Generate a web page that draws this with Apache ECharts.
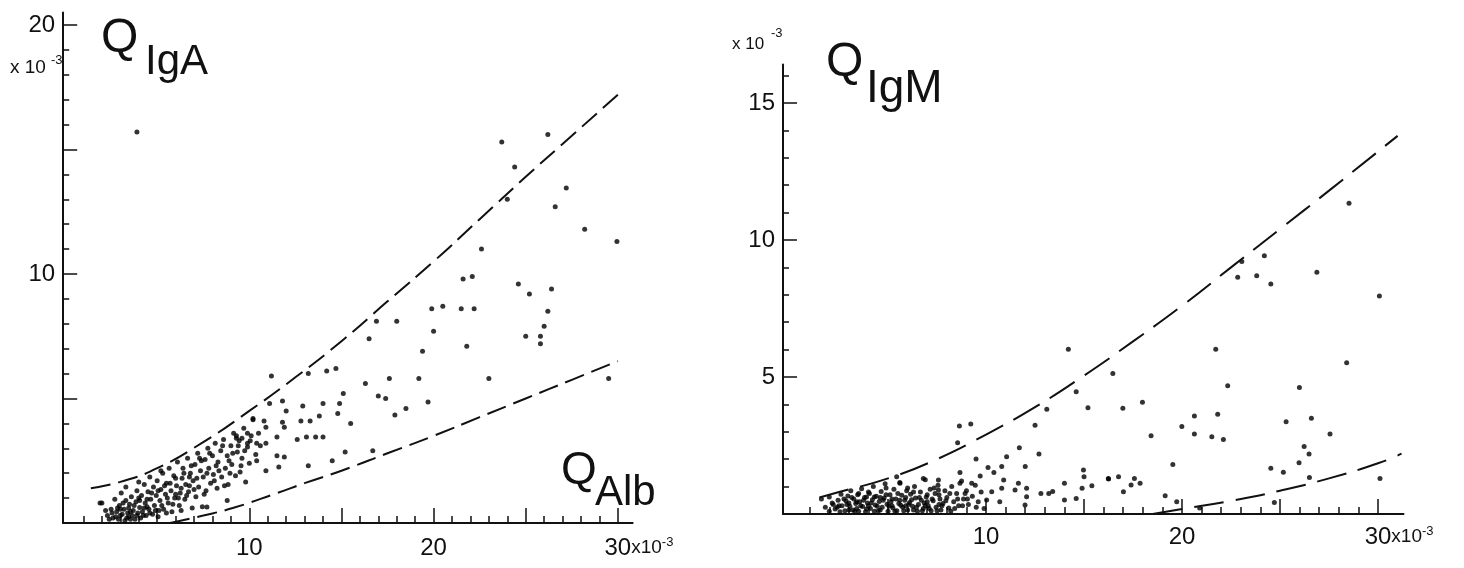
<!DOCTYPE html>
<html>
<head>
<meta charset="utf-8">
<script src="https://cdn.jsdelivr.net/npm/echarts@6/dist/echarts.min.js"></script>
<style>
  html, body { margin: 0; padding: 0; background: #fff; }
  #main { width: 1464px; height: 568px; }
</style>
</head>
<body>
<div id="main"></div>
<script>
// tick labels
var igaXLabels = [10, 20, 30];
var igaYLabels = [10, 20];
var igmXLabels = [10, 20, 30];
var igmYLabels = [5, 10, 15];

// Q IgA vs Q Alb (x10^-3)
var igaUpper = [[1.4,1.4],[3,1.65],[5,2.2],[7.5,3.25],[10,4.5],[12.5,5.85],[15,7.3],[17.5,8.9],[20,10.5],[22.5,12.2],[25,13.9],[27.5,15.55],[30,17.2]];
var igaLower = [[5.7,0],[7.5,0.3],[9.1,0.6],[11.5,1.2],[13,1.6],[15,2.1],[17.5,2.8],[20,3.5],[22.5,4.25],[25,5.0],[27.5,5.75],[30,6.5]];

var igaCluster = [
  [2.0,0.8],[2.3,0.3],[2.5,0.55],[2.6,0.2],[2.7,0.95],[2.8,0.45],[2.9,0.15],[2.95,0.7],[3.05,1.2],[3.1,0.35],
  [3.2,0.55],[3.25,0.1],[3.3,0.9],[3.4,0.4],[3.45,0.25],[3.5,0.75],[3.6,1.05],[3.65,0.3],[3.7,0.5],[3.8,0.15],
  [3.85,0.85],[3.9,1.3],[3.95,0.4],[4.05,0.62],[4.1,0.2],[4.15,1.1],[4.2,0.45],[4.3,1.55],[4.35,0.8],[4.4,0.3],
  [4.5,1.25],[4.55,0.55],[4.6,1.85],[4.65,0.95],[4.75,0.35],[4.8,1.45],[4.85,0.7],[4.95,1.1],[5.0,1.7],[5.05,0.25],
  [5.15,0.9],[5.2,1.35],[5.3,2.0],[5.35,0.55],[5.45,1.15],[5.5,1.6],[5.6,0.8],[5.65,2.2],[5.75,1.3],[5.8,0.45],
  [5.9,1.9],[5.95,1.0],[6.05,1.5],[6.1,2.45],[6.2,0.7],[6.25,1.2],[6.35,1.8],[6.4,2.2],[6.5,0.95],[6.55,1.55],
  [6.65,2.6],[6.7,1.25],[6.8,2.0],[6.9,0.6],[6.95,1.7],[7.05,2.35],[7.1,1.05],[7.2,2.8],[7.25,1.45],[7.35,2.1],
  [7.45,0.65],[7.5,1.85],[7.6,2.55],[7.65,1.3],[7.75,3.0],[7.8,2.2],[7.9,1.6],[8.0,2.7],[8.05,1.95],[8.15,3.2],
  [8.25,1.4],[8.3,2.45],[8.45,2.9],[8.5,1.85],[8.6,3.35],[8.7,2.2],[8.8,2.7],[8.85,1.55],[9.0,3.1],[9.05,2.35],
  [9.15,3.6],[9.25,1.9],[9.35,2.85],[9.45,3.3],[9.5,2.05],[9.6,2.6],[9.7,3.8],[9.8,1.65],[9.9,3.05],[10.0,2.4],
  [10.1,3.5],[10.2,4.15],[10.35,2.75],[6.3,0.5],[8.8,0.9],[7.7,0.64],[1.9,0.8],[2.2,0.5],[3.0,0.55],[3.55,0.15],
  [4.0,1.0],[4.45,0.65],[5.1,0.5],[5.55,1.0],[6.0,1.15],[6.75,1.5],[7.4,2.5],[8.2,2.3],[8.95,2.0],[9.6,3.4],
  [2.4,0.15],[2.55,0.4],[2.75,0.25],[2.85,0.6],[3.0,0.3],[3.15,0.8],[3.35,0.2],[3.45,0.6],[3.55,0.45],[3.75,0.7],
  [3.9,0.3],[4.05,0.9],[4.25,0.3],[4.3,0.6],[4.45,0.95],[4.6,0.4],[4.7,1.2],[4.9,0.5],[5.05,1.3],[5.25,0.7],
  [5.4,1.5],[5.5,0.4],[5.7,1.6],[5.85,0.75],[6.0,1.8],[6.15,1.0],[6.3,1.4],[6.45,2.0],[6.6,1.1],[6.75,1.85],
  [6.85,2.3],[7.0,1.35],[7.15,1.8],[7.3,2.6],[7.55,1.15],[7.7,2.0],[7.85,2.8],[8.1,1.7],[8.35,2.1],[8.55,3.1],
  [8.65,1.5],[8.9,2.5],[9.1,2.8],[9.3,3.4],[9.55,2.3],[9.75,2.9],[10.05,3.3],[10.4,2.5],[10.6,3.1],[4.0,1.65],
  [5.2,2.1],[3.3,1.45]
];
var igaScatter = [
  [3.9,15.7],[26.2,15.6],[23.7,15.3],[24.4,14.3],[24.0,13.0],[27.2,13.45],[26.6,12.7],[28.2,11.8],[29.95,11.3],[22.6,11.0],
  [21.6,9.8],[22.1,9.9],[24.6,9.6],[25.2,9.2],[26.4,9.4],[26.2,8.5],[26.0,7.9],[25.0,7.5],[25.8,7.5],[25.8,7.2],
  [19.9,8.6],[20.5,8.7],[21.5,8.6],[22.2,8.6],[20.0,7.7],[21.8,7.1],[19.4,6.9],[16.9,8.1],[18.0,8.1],[16.5,7.4],
  [14.2,6.1],[14.7,6.2],[13.2,6.0],[11.2,5.9],[16.3,5.6],[17.6,5.8],[19.2,5.8],[23.0,5.8],[15.1,5.2],[17.0,5.1],
  [17.4,5.0],[29.5,5.8],[12.9,4.7],[14.0,4.8],[14.9,4.8],[14.8,4.4],[15.5,4.0],[11.8,4.9],[12.0,4.5],[11.1,4.8],
  [12.8,4.1],[13.3,4.1],[13.8,4.3],[10.8,4.1],[10.9,3.85],[11.8,4.05],[11.9,3.85],[10.2,4.2],[10.5,3.6],[11.5,3.45],
  [12.6,3.35],[13.1,3.45],[13.6,3.45],[14.0,3.45],[9.9,3.6],[9.9,3.2],[10.4,3.2],[10.9,3.2],[11.5,2.7],[11.9,2.65],
  [10.9,2.1],[11.6,2.25],[13.2,2.3],[14.5,2.5],[15.2,2.85],[9.3,3.5],[9.4,3.1],[16.7,2.9],[17.9,4.34],[18.5,4.6],
  [19.7,4.86]
];

// Q IgM vs Q Alb (x10^-3)
var igmUpper = [[1.5,0.6],[2.5,0.8],[5,1.3],[7.5,2.0],[10,2.9],[12.5,3.9],[15,5.05],[17.5,6.3],[20,7.6],[22.5,9.0],[25,10.4],[27.5,11.8],[31,13.8]];
var igmLower = [[18.5,0],[20,0.18],[22.5,0.48],[25,0.85],[27.5,1.3],[30,1.85],[31.2,2.2]];

var igmCluster = [
  [1.6,0.55],[1.8,0.25],[2.0,0.62],[2.15,0.4],[2.3,0.18],[2.45,0.5],[2.6,0.72],[2.65,0.3],[2.8,0.12],[2.85,0.48],
  [2.95,0.66],[3.05,0.28],[3.1,0.85],[3.2,0.15],[3.25,0.55],[3.35,0.38],[3.45,0.7],[3.5,0.1],[3.55,0.45],[3.65,0.92],
  [3.7,0.27],[3.8,0.6],[3.85,0.08],[3.95,0.4],[4.05,0.75],[4.1,0.2],[4.2,0.52],[4.25,1.0],[4.35,0.33],[4.4,0.65],
  [4.5,0.12],[4.55,0.46],[4.65,0.82],[4.7,0.25],[4.8,0.58],[4.85,1.1],[4.95,0.36],[5.0,0.1],[5.1,0.7],[5.15,0.45],
  [5.25,0.22],[5.3,0.9],[5.4,0.55],[5.45,0.12],[5.55,0.38],[5.6,1.15],[5.7,0.68],[5.75,0.25],[5.85,0.5],[5.95,0.85],
  [6.0,0.15],[6.1,0.42],[6.15,0.72],[6.25,0.28],[6.35,1.0],[6.4,0.58],[6.5,0.1],[6.55,0.35],[6.65,0.8],[6.7,0.5],
  [6.8,0.2],[6.9,1.25],[6.95,0.62],[7.05,0.3],[7.15,0.9],[7.2,0.12],[7.3,0.48],[7.4,0.75],[7.45,0.25],[7.55,1.05],
  [7.65,0.55],[7.7,0.15],[7.8,0.38],[7.9,0.85],[8.0,0.6],[8.1,0.22],[8.25,1.0],[8.35,0.45],[8.5,0.75],[8.6,0.3],
  [8.75,1.2],[8.85,0.55],[9.0,0.85],[9.1,0.35],[9.3,0.65],[9.45,1.05],[9.6,0.45],[9.75,0.8],[9.9,0.2],[3.0,0.4],
  [3.4,0.2],[4.0,0.3],[4.6,0.6],[5.2,0.3],[5.9,0.3],[6.3,0.15],[7.0,0.45],[7.6,0.35],[8.2,0.1],[4.3,0.1],
  [2.0,0.1],[2.2,0.35],[2.4,0.25],[2.55,0.08],[2.75,0.55],[2.9,0.35],[3.0,0.15],[3.15,0.6],[3.3,0.1],[3.4,0.45],
  [3.6,0.3],[3.75,0.5],[3.9,0.18],[4.0,0.8],[4.15,0.4],[4.3,0.62],[4.45,0.28],[4.6,0.15],[4.75,0.5],[4.9,0.7],
  [5.05,0.28],[5.2,0.55],[5.35,0.1],[5.5,0.75],[5.65,0.32],[5.8,0.12],[5.9,0.6],[6.05,0.35],[6.2,0.52],[6.3,0.8],
  [6.45,0.25],[6.6,0.6],[6.75,0.12],[6.85,0.4],[7.0,0.7],[7.1,0.2],[7.25,0.55],[7.35,0.95],[7.5,0.12],[7.6,0.7],
  [7.75,0.3],[7.95,0.48],[8.15,0.75],[8.4,0.2],[8.55,0.55],[8.8,0.3],[9.05,0.55],[9.5,0.25],[3.5,0.75],[4.9,0.95],
  [6.0,0.95],[2.5,0.3],[3.9,0.62],[5.6,0.5],[6.9,0.3]
];
var igmScatter = [
  [14.2,6.01],[14.6,4.46],[15.2,3.88],[13.1,3.82],[12.5,3.24],[8.64,3.21],[9.22,3.28],[8.55,2.6],[9.49,2.01],[11.7,2.42],
  [12.7,2.19],[11.05,2.09],[12.0,1.73],[10.8,1.73],[10.1,1.7],[10.4,1.51],[9.7,1.39],[8.67,1.51],[14.97,1.61],[15.0,1.36],
  [15.4,1.03],[16.24,1.3],[14.0,1.12],[13.2,0.75],[12.8,0.75],[13.4,0.82],[14.0,0.51],[14.6,0.57],[14.9,0.94],[12.07,0.94],
  [12.07,0.63],[11.99,0.33],[11.65,1.12],[11.48,0.88],[10.9,1.24],[10.8,0.94],[10.7,0.45],[10.29,0.81],[10.03,0.51],[9.27,1.12],
  [8.93,0.75],[6.8,1.3],[7.57,1.24],[7.57,0.88],[8.67,1.12],[5.44,1.36],[5.61,1.12],[23.05,9.21],[24.2,9.42],[22.84,8.64],
  [23.81,8.69],[24.53,8.39],[26.88,8.82],[28.52,11.34],[30.07,7.96],[21.72,6.01],[16.47,5.13],[16.98,3.86],[17.98,4.08],[22.33,4.68],
  [25.99,4.62],[28.4,5.52],[20.63,3.58],[21.82,3.64],[26.6,3.49],[18.42,2.86],[19.99,3.19],[20.63,2.92],[21.52,2.82],[22.11,2.72],
  [25.31,3.37],[27.55,2.92],[26.23,2.46],[26.48,2.19],[25.97,1.87],[24.53,1.67],[25.17,1.52],[26.5,1.33],[30.1,1.3],[16.25,1.28],
  [16.76,1.36],[17.01,0.81],[17.4,1.06],[17.57,1.3],[17.86,1.12],[19.53,1.81],[19.14,0.67],[19.73,0.45],[24.71,0.42],[20.9,0.22]
];

var FONT = '"Liberation Sans", Arial, sans-serif';
var INK = '#111';

// tick positions: short every 1, long every 5
var minorTicks = function(max) {
  var a = [];
  for (var i = 1; i <= max; i++) if (i % 5) a.push(i);
  return a;
};
var majorTicks = function(max) {
  var a = [];
  for (var i = 5; i <= max; i += 5) a.push(i);
  return a;
};

var xLabelRich = {
  n: { fontSize: 24, fontFamily: FONT, color: INK },
  u: { fontSize: 19, fontFamily: FONT, color: INK },
  e: { fontSize: 13, fontFamily: FONT, color: INK, verticalAlign: 'top', padding: [0, 0, 10, 0] },
  hu: { fontSize: 19, fontFamily: FONT, color: 'transparent' },
  he: { fontSize: 13, fontFamily: FONT, color: 'transparent' }
};
var xLabelFormatter = function(v) {
  if (v === 30) return '{hu|x10}{he|-3}{n|30}{u|x10}{e|-3}';
  return '{n|' + v + '}';
};

// one axis pair (short ticks + labels, long ticks overlay) for a grid
var makeX = function(gridIndex, min, max, labels, margin) {
  return [
    {
      type: 'value', gridIndex: gridIndex, min: min, max: max, position: 'bottom',
      splitLine: { show: false },
      axisLine: { onZero: false, lineStyle: { color: INK, width: 2 } },
      axisTick: { inside: true, length: 7, customValues: minorTicks(30), lineStyle: { color: INK, width: 1.5 } },
      axisLabel: { customValues: labels, margin: margin, formatter: xLabelFormatter, rich: xLabelRich }
    },
    {
      type: 'value', gridIndex: gridIndex, min: min, max: max, position: 'bottom',
      splitLine: { show: false },
      axisLine: { show: false, onZero: false },
      axisTick: { inside: true, length: 15, customValues: majorTicks(30), lineStyle: { color: INK, width: 1.5 } },
      axisLabel: { show: false }
    }
  ];
};
var makeY = function(gridIndex, max, top, labels) {
  return [
    {
      type: 'value', gridIndex: gridIndex, min: 0, max: max, position: 'left',
      splitLine: { show: false },
      axisLine: { onZero: false, lineStyle: { color: INK, width: 2 } },
      axisTick: { inside: true, length: 6, customValues: minorTicks(top), lineStyle: { color: INK, width: 1.5 } },
      axisLabel: { customValues: labels, margin: 8, fontSize: 24, fontFamily: FONT, color: INK }
    },
    {
      type: 'value', gridIndex: gridIndex, min: 0, max: max, position: 'left',
      splitLine: { show: false },
      axisLine: { show: false, onZero: false },
      axisTick: { inside: true, length: 14, customValues: majorTicks(top), lineStyle: { color: INK, width: 1.5 } },
      axisLabel: { show: false }
    }
  ];
};

var dots = function(name, data, xi, yi) {
  return {
    name: name, type: 'scatter', xAxisIndex: xi, yAxisIndex: yi, data: data,
    symbolSize: 5, itemStyle: { color: '#000' }, silent: true
  };
};
var dashed = function(name, data, xi, yi, dash) {
  return {
    name: name, type: 'line', xAxisIndex: xi, yAxisIndex: yi, data: data,
    smooth: 0.5, showSymbol: false, silent: true,
    lineStyle: { color: INK, width: 2, type: dash }
  };
};

var txt = function(x, y, text, size) {
  return {
    type: 'text', x: x, y: y, silent: true,
    style: { text: text, fontSize: size, fontFamily: FONT, fill: INK, verticalAlign: 'middle', align: 'left' }
  };
};

var myChart = echarts.init(document.getElementById('main'));

var option = {
  backgroundColor: '#fff',
  animation: false,
  grid: [
    { left: 63.2, top: 12.5, width: 569.4, height: 510.5 },
    { left: 783, top: 64.6, width: 620.5, height: 449.4 }
  ],
  xAxis: makeX(0, -0.1, 30.8, igaXLabels, 13).concat(makeX(1, -0.36, 31.3, igmXLabels, 11)),
  yAxis: makeY(0, 20.5, 20, igaYLabels).concat(makeY(1, 16.4, 16, igmYLabels)),
  series: [
    dots('IgA', igaCluster, 0, 0),
    dots('IgA outer', igaScatter, 0, 0),
    dashed('IgA upper', igaUpper, 0, 0, [20, 8]),
    dashed('IgA lower', igaLower, 0, 0, [20, 8]),
    dots('IgM', igmCluster, 2, 2),
    dots('IgM outer', igmScatter, 2, 2),
    dashed('IgM upper', igmUpper, 2, 2, [30, 12]),
    dashed('IgM lower', igmLower, 2, 2, [30, 12])
  ],
  graphic: [
    txt(101, 39, 'Q', 48),
    txt(145, 62, 'IgA', 42),
    txt(10, 68, 'x 10', 19),
    txt(51, 60, '-3', 13),
    txt(561, 471, 'Q', 46),
    txt(595, 493, 'Alb', 42),
    txt(826, 63, 'Q', 48),
    txt(866, 89, 'IgM', 46),
    txt(732, 44, 'x 10', 17),
    txt(771, 33, '-3', 13)
  ]
};

myChart.setOption(option);
</script>
</body>
</html>
